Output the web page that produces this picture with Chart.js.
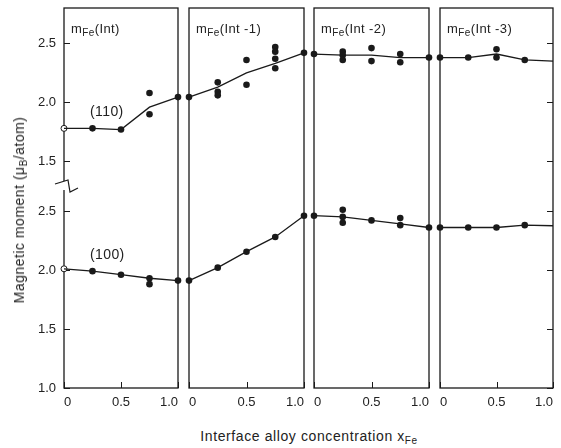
<!DOCTYPE html>
<html>
<head>
<meta charset="utf-8">
<script src="https://cdn.jsdelivr.net/npm/chart.js@4.4.0/dist/chart.umd.min.js"></script>
<style>
html, body { margin: 0; padding: 0; overflow: hidden; background: #fff; }
body { position: relative; width: 561px; height: 448px; font-family: "Liberation Sans", Arial, sans-serif; color: #222; }
canvas { position: absolute; top: 0; }
.lbl { position: absolute; font-size: 13px; white-space: nowrap; line-height: 15px; letter-spacing: 0.4px; }
.lbl sub, #ytitle sub, #xtitle sub { font-size: 10px; vertical-align: -3px; line-height: 0; }
#ytitle { position: absolute; left: 19px; top: 210px; transform: translate(-50%, -50%) rotate(-90deg); font-size: 14px; letter-spacing: 0.5px; white-space: nowrap; }
#xtitle { position: absolute; left: 309px; top: 436px; transform: translate(-50%, -50%); font-size: 14px; letter-spacing: 0.6px; white-space: nowrap; }
</style>
</head>
<body>
<canvas id="p0" width="190" height="420"></canvas>
<canvas id="p1" width="139" height="420"></canvas>
<canvas id="p2" width="139" height="420"></canvas>
<canvas id="p3" width="137" height="420"></canvas>

<div class="lbl" style="left:71px;top:21px">m<sub>Fe</sub>(Int)</div>
<div class="lbl" style="left:196px;top:21px">m<sub>Fe</sub>(Int -1)</div>
<div class="lbl" style="left:321px;top:21px">m<sub>Fe</sub>(Int -2)</div>
<div class="lbl" style="left:447px;top:21px">m<sub>Fe</sub>(Int -3)</div>
<div class="lbl" style="left:90px;top:104px;font-size:14px">(110)</div>
<div class="lbl" style="left:90px;top:247px;font-size:14px">(100)</div>
<div id="ytitle">Magnetic moment (μ<sub>B</sub>/atom)</div>
<div id="xtitle">Interface alloy concentration x<sub>Fe</sub></div>

<script>
// interface alloy concentration
const xFe = [0, 0.25, 0.5, 0.75, 1.0];

// averaged curves, one row per panel: Int, Int-1, Int-2, Int-3
const line110 = [
    [1.78, 1.78, 1.77, 1.96, 2.045],
    [2.045, 2.13, 2.25, 2.33, 2.42],
    [2.41, 2.40, 2.40, 2.38, 2.38],
    [2.38, 2.38, 2.41, 2.36, 2.35]
];
const line100 = [
    [2.01, 1.99, 1.96, 1.93, 1.91],
    [1.91, 2.02, 2.155, 2.28, 2.46],
    [2.46, 2.45, 2.42, 2.39, 2.36],
    [2.36, 2.36, 2.36, 2.38, 2.375]
];

// individual configurations [x, moment]
const dots110 = [
    [[0.25, 1.78], [0.5, 1.77], [0.75, 2.08], [0.75, 1.90], [1.0, 2.045]],
    [[0, 2.045], [0.25, 2.17], [0.25, 2.09], [0.25, 2.06], [0.5, 2.36], [0.5, 2.15],
     [0.75, 2.47], [0.75, 2.43], [0.75, 2.37], [0.75, 2.29], [1.0, 2.42]],
    [[0, 2.41], [0.25, 2.43], [0.25, 2.40], [0.25, 2.36], [0.5, 2.46], [0.5, 2.35],
     [0.75, 2.41], [0.75, 2.34], [1.0, 2.38]],
    [[0, 2.38], [0.25, 2.38], [0.5, 2.45], [0.5, 2.38], [0.75, 2.36]]
];
const dots100 = [
    [[0.25, 1.99], [0.5, 1.96], [0.75, 1.93], [0.75, 1.88], [1.0, 1.91]],
    [[0, 1.91], [0.25, 2.02], [0.5, 2.155], [0.75, 2.28], [1.0, 2.46]],
    [[0, 2.46], [0.25, 2.51], [0.25, 2.45], [0.25, 2.40], [0.5, 2.42], [0.75, 2.44],
     [0.75, 2.38], [1.0, 2.36]],
    [[0, 2.36], [0.25, 2.36], [0.5, 2.36], [0.75, 2.38]]
];
// open circles (pure Fe end point)
const open110 = [[0, 1.78]];
const open100 = [[0, 2.01]];

const yTicks100 = [1.0, 1.5, 2.0, 2.5];
const yTicks110 = [1.5, 2.0, 2.5];
const xTickLabels = ["0", "0.5", "1.0"];

// (110) block sits above the axis break
const SHIFT = 1.42;
const BREAK_AT = 2.72;
const Y_MIN = 1.0, Y_MAX = 4.22;

const panelLeft = [64, 189, 314, 440];
const panelRight = [178, 304, 429, 553];
const INK = "#1a1a1a";

const yTickAll = yTicks100.concat(yTicks110.map(v => v + SHIFT));
const yTickLabels = yTicks100.concat(yTicks110).map(v => v.toFixed(1));

const framePlugin = {
    id: "frame",
    beforeDatasetsDraw(chart, args, o) {
        const { ctx, chartArea: a, scales } = chart;
        ctx.save();
        ctx.strokeStyle = INK;
        ctx.lineWidth = 1.3;
        ctx.strokeRect(a.left, a.top, a.right - a.left, a.bottom - a.top);
        ctx.lineWidth = 1;
        ctx.beginPath();
        yTickAll.forEach(v => {
            const y = Math.round(scales.y.getPixelForValue(v)) + 0.5;
            if (o.left) { ctx.moveTo(a.left, y); ctx.lineTo(a.left + 6, y); }
            if (o.right) { ctx.moveTo(a.right - 6, y); ctx.lineTo(a.right, y); }
        });
        scales.x.ticks.forEach(t => {
            const x = Math.round(scales.x.getPixelForValue(t.value)) + 0.5;
            ctx.moveTo(x, a.bottom); ctx.lineTo(x, a.bottom - 6);
        });
        ctx.stroke();
        if (o.zig) {
            const y = scales.y.getPixelForValue(BREAK_AT);
            ctx.fillStyle = "#fff";
            ctx.fillRect(a.left - 1, y - 4, 3, 9);
            ctx.lineWidth = 1.2;
            ctx.beginPath();
            ctx.moveTo(a.left - 9, y - 1);
            ctx.lineTo(a.left + 4, y - 5);
            ctx.lineTo(a.left + 6, y + 7);
            ctx.lineTo(a.left + 14, y + 3);
            ctx.stroke();
        }
        ctx.restore();
    }
};

function toPts(arr, shift) {
    return arr.map(([x, v]) => ({ x: x, y: v + shift }));
}

function makePanel(p) {
    const first = p === 0;
    const datasets = [
        {
            data: xFe.map((x, i) => ({ x: x, y: line110[p][i] + SHIFT })),
            showLine: true, borderColor: INK, borderWidth: 1.3, pointRadius: 0, clip: false
        },
        {
            data: xFe.map((x, i) => ({ x: x, y: line100[p][i] })),
            showLine: true, borderColor: INK, borderWidth: 1.3, pointRadius: 0, clip: false
        },
        {
            data: toPts(dots110[p], SHIFT).concat(toPts(dots100[p], 0)),
            pointRadius: 3.3, backgroundColor: INK, borderWidth: 0, clip: false
        }
    ];
    if (first) {
        datasets.push({
            data: toPts(open110, SHIFT).concat(toPts(open100, 0)),
            pointRadius: 3, backgroundColor: "#fff", borderColor: INK, borderWidth: 1, clip: false
        });
    }
    const canvas = document.getElementById("p" + p);
    canvas.style.left = (first ? 0 : panelLeft[p] - 12) + "px";

    new Chart(canvas.getContext("2d"), {
        type: "scatter",
        data: { datasets: datasets },
        options: {
            responsive: false,
            animation: false,
            layout: {
                autoPadding: false,
                padding: { left: first ? 0 : 12, right: 12, top: 8, bottom: 0 }
            },
            plugins: {
                legend: { display: false },
                tooltip: { enabled: false },
                frame: { left: first, right: p === 3, zig: first }
            },
            scales: {
                x: {
                    type: "linear", min: 0, max: 1,
                    grid: { display: false, drawTicks: false },
                    border: { display: false },
                    afterBuildTicks: s => { s.ticks = [0, 0.5, 1.0].map(v => ({ value: v })); },
                    afterFit: s => {
                        s.height = 32;
                        s.paddingLeft = 0; s.paddingRight = 0;
                    },
                    ticks: {
                        align: "inner", padding: 7, color: "#222",
                        font: { family: "Liberation Sans", size: 13 },
                        callback: (v, i) => xTickLabels[i]
                    }
                },
                y: {
                    type: "linear", min: Y_MIN, max: Y_MAX,
                    display: first,
                    grid: { display: false, drawTicks: false },
                    border: { display: false },
                    afterBuildTicks: s => { s.ticks = yTickAll.map(v => ({ value: v })); },
                    afterFit: s => {
                        s.width = first ? 64 : 0;
                        s.paddingTop = 0; s.paddingBottom = 0;
                    },
                    ticks: {
                        padding: 8, color: "#222",
                        font: { family: "Liberation Sans", size: 13 },
                        callback: (v, i) => yTickLabels[i]
                    }
                }
            }
        },
        plugins: [framePlugin]
    });
}

[0, 1, 2, 3].forEach(makePanel);
</script>
</body>
</html>
